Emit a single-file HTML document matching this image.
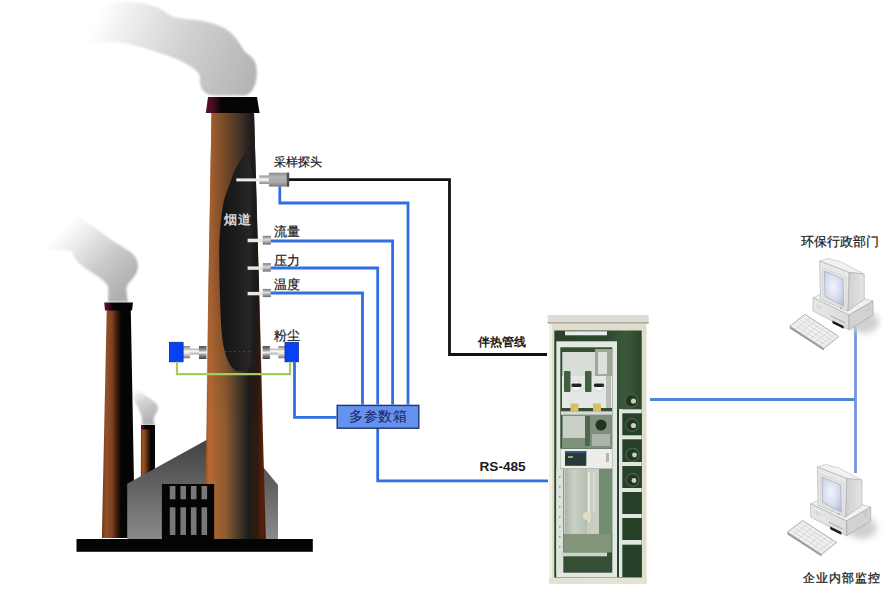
<!DOCTYPE html>
<html><head><meta charset="utf-8">
<style>
html,body{margin:0;padding:0;background:#fff;}
body{width:883px;height:600px;overflow:hidden;position:relative;font-family:"Liberation Sans",sans-serif;}
svg{position:absolute;left:0;top:0;}
.t{position:absolute;white-space:nowrap;color:#1a1a1a;line-height:1;}
.s{-webkit-text-stroke:0.22px #1a1a1a;}
</style></head><body>
<svg width="883" height="600" viewBox="0 0 883 600">
<defs>
  <linearGradient id="chim" x1="0" x2="1" y1="0" y2="0">
    <stop offset="0" stop-color="#8c4a1e"/>
    <stop offset="0.07" stop-color="#b86a30"/>
    <stop offset="0.35" stop-color="#8a5a30"/>
    <stop offset="0.55" stop-color="#4a3a28"/>
    <stop offset="0.72" stop-color="#1c1c1c"/>
    <stop offset="0.86" stop-color="#301a0e"/>
    <stop offset="0.95" stop-color="#5a2008"/>
    <stop offset="1" stop-color="#3a1808"/>
  </linearGradient>
  <linearGradient id="chim2" x1="0" x2="1" y1="0" y2="0">
    <stop offset="0" stop-color="#6a3412"/>
    <stop offset="0.12" stop-color="#94522a"/>
    <stop offset="0.3" stop-color="#7e4220"/>
    <stop offset="0.45" stop-color="#401c0a"/>
    <stop offset="0.58" stop-color="#060404"/>
    <stop offset="1" stop-color="#050505"/>
  </linearGradient>
  <linearGradient id="chim3" x1="0" x2="1" y1="0" y2="0">
    <stop offset="0" stop-color="#7a3c14"/>
    <stop offset="0.2" stop-color="#9a5626"/>
    <stop offset="0.55" stop-color="#3a1a08"/>
    <stop offset="0.7" stop-color="#050505"/>
    <stop offset="1" stop-color="#050505"/>
  </linearGradient>
  <linearGradient id="cap" x1="0" x2="1" y1="0" y2="0">
    <stop offset="0" stop-color="#5e0e2c"/>
    <stop offset="0.12" stop-color="#4a0c24"/>
    <stop offset="0.3" stop-color="#050304"/>
    <stop offset="1" stop-color="#050505"/>
  </linearGradient>
  <linearGradient id="smoke" gradientUnits="userSpaceOnUse" x1="250" y1="88" x2="95" y2="20">
    <stop offset="0" stop-color="#b4b4b4"/>
    <stop offset="0.45" stop-color="#d0d0d0"/>
    <stop offset="0.8" stop-color="#ededed"/>
    <stop offset="1" stop-color="#ffffff"/>
  </linearGradient>
  <linearGradient id="smoke2" gradientUnits="userSpaceOnUse" x1="128" y1="292" x2="62" y2="228">
    <stop offset="0" stop-color="#adadad"/>
    <stop offset="0.45" stop-color="#cdcdcd"/>
    <stop offset="0.8" stop-color="#efefef"/>
    <stop offset="1" stop-color="#ffffff"/>
  </linearGradient>
  <linearGradient id="smoke3" gradientUnits="userSpaceOnUse" x1="152" y1="420" x2="134" y2="390">
    <stop offset="0" stop-color="#b0b0b0"/>
    <stop offset="0.6" stop-color="#d4d4d4"/>
    <stop offset="1" stop-color="#ffffff"/>
  </linearGradient>
  <linearGradient id="bld" gradientUnits="userSpaceOnUse" x1="0" x2="0" y1="430" y2="539">
    <stop offset="0" stop-color="#3c3c3c"/>
    <stop offset="0.35" stop-color="#555555"/>
    <stop offset="1" stop-color="#8a8a8a"/>
  </linearGradient>
  <filter id="soft" x="-10%" y="-10%" width="120%" height="120%"><feGaussianBlur stdDeviation="0.8"/></filter>
  <filter id="blur3" x="-50%" y="-50%" width="200%" height="200%"><feGaussianBlur stdDeviation="3"/></filter>
  <linearGradient id="pcfront" x1="0" x2="1" y1="0" y2="0">
    <stop offset="0" stop-color="#e8e8e8"/>
    <stop offset="1" stop-color="#dcdcdc"/>
  </linearGradient>
  <linearGradient id="pcside" x1="0" x2="1" y1="0" y2="0">
    <stop offset="0" stop-color="#cfcfcf"/>
    <stop offset="1" stop-color="#e4e4e4"/>
  </linearGradient>
  <radialGradient id="screen" cx="0.45" cy="0.45" r="0.7">
    <stop offset="0" stop-color="#f2f4fc"/>
    <stop offset="0.6" stop-color="#d4daf0"/>
    <stop offset="1" stop-color="#b4bcd8"/>
  </radialGradient>
  <linearGradient id="green" x1="0" x2="1" y1="0" y2="0">
    <stop offset="0" stop-color="#223c22"/>
    <stop offset="0.6" stop-color="#26442a"/>
    <stop offset="0.82" stop-color="#345434"/>
    <stop offset="1" stop-color="#243e26"/>
  </linearGradient>
  <linearGradient id="panel" x1="0" x2="1" y1="0" y2="0">
    <stop offset="0" stop-color="#a8b4a4"/>
    <stop offset="0.4" stop-color="#c8d0c4"/>
    <stop offset="1" stop-color="#b4bcb0"/>
  </linearGradient>
  <filter id="soft6" x="-5%" y="-5%" width="110%" height="110%"><feGaussianBlur stdDeviation="0.6"/></filter>
  <linearGradient id="cyl" x1="0" x2="0" y1="0" y2="1">
    <stop offset="0" stop-color="#8a8a7a"/>
    <stop offset="0.45" stop-color="#f4f4f4"/>
    <stop offset="0.6" stop-color="#e8e8e8"/>
    <stop offset="1" stop-color="#7a7a70"/>
  </linearGradient>
  <linearGradient id="cyl2" x1="0" x2="0" y1="0" y2="1">
    <stop offset="0" stop-color="#a0a0a0"/>
    <stop offset="0.4" stop-color="#ffffff"/>
    <stop offset="1" stop-color="#a8a8a8"/>
  </linearGradient>
  <linearGradient id="nut" x1="0" x2="0" y1="0" y2="1">
    <stop offset="0" stop-color="#505050"/>
    <stop offset="0.3" stop-color="#909090"/>
    <stop offset="0.5" stop-color="#f0f0f0"/>
    <stop offset="0.7" stop-color="#909090"/>
    <stop offset="1" stop-color="#404040"/>
  </linearGradient>
  <linearGradient id="probe" x1="0" x2="0" y1="0" y2="1">
    <stop offset="0" stop-color="#8c8c8c"/>
    <stop offset="0.3" stop-color="#b4b4b4"/>
    <stop offset="0.7" stop-color="#a8a8a8"/>
    <stop offset="1" stop-color="#7a7a7a"/>
  </linearGradient>
  <linearGradient id="sens" x1="0" x2="0" y1="0" y2="1">
    <stop offset="0" stop-color="#787878"/>
    <stop offset="0.45" stop-color="#dcdcdc"/>
    <stop offset="1" stop-color="#6a6a6a"/>
  </linearGradient>
  <linearGradient id="chimTop" x1="0" x2="1" y1="0" y2="0">
    <stop offset="0" stop-color="#8a4c20"/>
    <stop offset="0.07" stop-color="#a66030"/>
    <stop offset="0.3" stop-color="#7a4a28"/>
    <stop offset="0.55" stop-color="#4e3628"/>
    <stop offset="0.8" stop-color="#1c1c1c"/>
    <stop offset="0.93" stop-color="#1e1616"/>
    <stop offset="1" stop-color="#2a1410"/>
  </linearGradient>
  <linearGradient id="topfade" gradientUnits="userSpaceOnUse" x1="0" x2="0" y1="100" y2="420">
    <stop offset="0" stop-color="#fff"/>
    <stop offset="0.55" stop-color="#fff"/>
    <stop offset="1" stop-color="#000"/>
  </linearGradient>
  <mask id="topmask" maskUnits="userSpaceOnUse" x="200" y="100" width="70" height="320"><rect x="200" y="100" width="70" height="320" fill="url(#topfade)"/></mask>
  <linearGradient id="flue" x1="0" x2="1" y1="0" y2="0">
    <stop offset="0" stop-color="#141414"/>
    <stop offset="0.5" stop-color="#1c1c1c"/>
    <stop offset="0.85" stop-color="#262626"/>
    <stop offset="1" stop-color="#1a1a1a"/>
  </linearGradient>
</defs>

<!-- main smoke -->
<path d="M256.7,72 C257,62 252,56 245,52 C238,40 232,32 224,28 C212,22 200,20 185,19 C175,18 170,16 164,11 C155,5 140,2 125,2 C112,2 100,4 92,8 L88,42 C100,43 112,42 124,43 C140,46 150,50 160,53 C172,57 180,60 190,66 C196,70 200,73 200,78 C199,88 204,95.5 215,95.5 L245,95.5 C253,93 257,84 256.7,72 Z" fill="url(#smoke)" filter="url(#soft)"/>

<!-- left smoke -->
<path d="M128,302 C127,294 125,289 128,284 C132,279 138,274 138,266 C138,259 134,254 126,249 C118,244 108,238 98,230 C90,224 82,218 74,216 L52,218 C46,228 44,240 48,250 C56,250 66,250 72,252 C74,258 78,264 88,270 C96,275 104,280 108,286 C109,292 108,297 108,302 Z" fill="url(#smoke2)" filter="url(#soft)"/>

<!-- small smoke -->
<path d="M155,425 C153,421 153,418 155,415 C157,412 158,410 158,407 C157,403 152,400 146,396 C142,393 138,390 134,389 C132,392 132,396 133,398 C135,402 138,406 139,410 C141,414 143,418 142,425 Z" fill="url(#smoke3)" filter="url(#soft)"/>

<!-- left tall chimney -->
<polygon points="106.7,310 130.8,310 135,538 101.9,538" fill="url(#chim2)"/>
<polygon points="104.2,302.5 133,302.5 132,310.5 105,310.5" fill="url(#cap)"/>

<!-- small chimney -->
<polygon points="141,429 155,429 155,480 140.8,480" fill="url(#chim3)"/>
<polygon points="141,425 155,425 155,429.5 141,429.5" fill="url(#cap)"/>

<!-- factory building -->
<polygon points="127.2,483.8 230,427 278,485 278,539 127.2,539" fill="url(#bld)"/>

<!-- main chimney -->
<polygon points="211.5,112 254,112 265.8,539 204.7,539" fill="url(#chim)"/>
<polygon points="211.5,112 254,112 263,420 206,420" fill="url(#chimTop)" mask="url(#topmask)"/>
<polygon points="208,97 257,97 259.6,113 205.8,113" fill="url(#cap)"/>
<!-- flue cutaway -->
<path d="M247.5,150 C240,160 234,171 231.5,179 C227,191 224,199 223,205 C220,225 219.2,240 219.2,255 C219.5,290 220.5,315 221.5,330 C222.5,345 225,353 228,361 C231,368 235,371 239,371 C246,371 250,368 252.5,362 L254.5,300 L253,175 Z" fill="url(#flue)"/>

<rect x="161.9" y="484" width="52.3" height="55" fill="#050505"/>
<g fill="#787878">
  <rect x="169.8" y="486" width="5.6" height="13.3"/>
  <rect x="180.4" y="486" width="5.6" height="13.3"/>
  <rect x="190.9" y="486" width="5.6" height="13.3"/>
  <rect x="201.5" y="486" width="5.6" height="13.3"/>
  <rect x="169.8" y="507.3" width="5.6" height="27.7"/>
  <rect x="180.4" y="507.3" width="5.6" height="27.7"/>
  <rect x="190.9" y="507.3" width="5.6" height="27.7"/>
  <rect x="201.5" y="507.3" width="5.6" height="27.7"/>
</g>

<!-- ground -->
<rect x="76.5" y="539" width="236.3" height="12.8" fill="#050505"/>

<!-- dust sensor -->
<g>
  <line x1="225" y1="351.7" x2="253" y2="351.7" stroke="#a04028" stroke-width="0.9" stroke-dasharray="1.6,3"/>
  <!-- left connector -->
  <rect x="183" y="346" width="7" height="12.3" fill="url(#cyl)"/>
  <rect x="190" y="348.7" width="9" height="5.8" fill="url(#cyl2)"/>
  <rect x="199" y="346" width="7.5" height="13" fill="url(#nut)"/>
  <!-- right connector -->
  <rect x="262.6" y="346" width="7.3" height="13" fill="url(#nut)"/>
  <rect x="269.9" y="348.7" width="8.5" height="5.8" fill="url(#cyl2)"/>
  <rect x="278.3" y="346" width="7" height="12.3" fill="url(#cyl)"/>
  <rect x="169.4" y="342.3" width="13.7" height="19.5" fill="#0840f4" stroke="#0a2aa8" stroke-width="0.8"/>
  <rect x="285" y="342.3" width="13.5" height="19.5" fill="#0840f4" stroke="#0a2aa8" stroke-width="0.8"/>
  <polyline points="177,361.8 177,374.2 290,374.2 290,361.8" fill="none" stroke="#a2cc5e" stroke-width="2.2"/>
</g>

<!-- probe -->
<rect x="236.3" y="178.4" width="23" height="3" fill="#ecebe6"/>
<rect x="259.3" y="175.5" width="10" height="8.3" fill="url(#cyl)"/>
<rect x="268.9" y="172.7" width="20.2" height="13.9" fill="url(#probe)"/>
<rect x="286.8" y="172.7" width="2.4" height="13.9" fill="#505050"/>

<!-- sensors -->
<g>
  <rect x="247.6" y="238.7" width="15.5" height="3.5" fill="#ebe8e0"/>
  <rect x="262.7" y="235.8" width="8.2" height="8.8" fill="url(#sens)"/>
  <rect x="247.6" y="266.4" width="15.5" height="3.4" fill="#ebe8e0"/>
  <rect x="262.7" y="263.2" width="8.2" height="8.4" fill="url(#sens)"/>
  <rect x="247.6" y="291.9" width="15.5" height="3.4" fill="#ebe8e0"/>
  <rect x="262.7" y="288.9" width="8.2" height="8.2" fill="url(#sens)"/>
</g>

<!-- cables -->
<g fill="none" stroke-linejoin="miter">
  <polyline points="289,179.7 449.5,179.7 449.5,354.5 547,354.5" stroke="#111" stroke-width="2.8"/>
  <polyline points="279.8,186.6 279.8,203 408,203 408,404.4" stroke="#2f6fe0" stroke-width="2.8"/>
  <polyline points="270.7,241 392.6,241 392.6,404.4" stroke="#2f6fe0" stroke-width="2.8"/>
  <polyline points="270.7,268 377.7,268 377.7,404.4" stroke="#2f6fe0" stroke-width="2.8"/>
  <polyline points="270.7,293 362.5,293 362.5,404.4" stroke="#2f6fe0" stroke-width="2.8"/>
  <polyline points="294.5,361.5 294.5,417.4 336.4,417.4" stroke="#2f6fe0" stroke-width="2.8"/>
  <polyline points="377.7,428.5 377.7,480.8 548,480.8" stroke="#2f6fe0" stroke-width="2.8"/>
  <polyline points="650,399.5 855.5,399.5" stroke="#5682da" stroke-width="2.8"/>
  <polyline points="855.5,326 855.5,473" stroke="#7494de" stroke-width="2.8"/>
</g>

<!-- multi-parameter box -->
<rect x="337.2" y="405.4" width="81.6" height="22.8" fill="#6492ee" stroke="#1e3276" stroke-width="1.4"/>

<!-- cabinet -->
<g filter="url(#soft6)">
  <!-- outer body -->
  <rect x="549" y="323" width="97.5" height="261" fill="#dedccb"/>
  <rect x="549" y="323" width="3" height="261" fill="#f0efe6"/>
  <rect x="547.7" y="315" width="101" height="8.5" fill="#dcdcd4"/>
  <rect x="547.7" y="322" width="101" height="1.6" fill="#a9a99e"/>
  <rect x="549" y="578" width="97.5" height="6" fill="#e4e2d2"/>
  <!-- dark green interior -->
  <rect x="554.3" y="330.5" width="87.4" height="247" fill="url(#green)"/>
  <rect x="565" y="331.3" width="42" height="4" fill="#e8ecea"/>
  <!-- rack frame -->
  <rect x="556.3" y="341.3" width="60.7" height="236" fill="#e3e8e3"/>
  <rect x="560.3" y="347.3" width="52" height="225.4" fill="#2e4a30"/>
  <!-- upper rack content -->
  <rect x="562.3" y="352" width="33" height="24" fill="#d8dcd6"/>
  <rect x="595" y="349" width="17" height="28" fill="#9aa696"/>
  <rect x="598" y="352" width="9" height="22" fill="#dcdeda"/>
  <rect x="562" y="376" width="50" height="32" fill="#e4e8e4"/>
  <rect x="564" y="371" width="6.5" height="21" fill="#3c5a3c" rx="1"/>
  <rect x="585" y="371" width="6.5" height="21" fill="#3c5a3c" rx="1"/>
  <circle cx="576.5" cy="386" r="5" fill="#f4f4f4" stroke="#c0c0c0" stroke-width="0.6"/>
  <circle cx="599" cy="386" r="5" fill="#f4f4f4" stroke="#c0c0c0" stroke-width="0.6"/>
  <rect x="571.5" y="383.5" width="10" height="3.5" fill="#1c1c1c" rx="1.5"/>
  <rect x="594" y="383.5" width="10" height="3.5" fill="#1c1c1c" rx="1.5"/>
  <rect x="606" y="376" width="5" height="32" fill="#b8bcb4"/>
  <rect x="570.5" y="403.5" width="8" height="8" fill="#d8bc60"/>
  <rect x="593" y="403.5" width="8" height="8" fill="#d8bc60"/>
  <rect x="561" y="411.3" width="51" height="3.5" fill="#d4dad4"/>
  <rect x="562" y="415" width="50" height="33" fill="#7a8c78"/>
  <rect x="563" y="416" width="22" height="22" fill="#c8ceC6"/>
  <rect x="585" y="416" width="5" height="30" fill="#4a6248"/>
  <circle cx="601" cy="425" r="5.5" fill="#1e2a20"/>
  <rect x="592" y="434" width="18" height="12" fill="#a8b4a6"/>
  <!-- analyzer -->
  <rect x="560.3" y="448.7" width="52" height="20" fill="#ededea"/>
  <rect x="565" y="451.2" width="21.3" height="14.6" fill="#1e3430"/>
  <rect x="565" y="451.2" width="21.3" height="2" fill="#34508a"/>
  <rect x="568" y="456" width="5" height="2" fill="#8aa880"/>
  <rect x="606" y="453" width="3" height="9" fill="#b4b4b0"/>
  <!-- lower rack content -->
  <rect x="563.7" y="469" width="48" height="65" fill="#c6cec0"/>
  <rect x="565" y="469" width="22" height="65" fill="url(#panel)"/>
  <rect x="599" y="469" width="13" height="65" fill="#6e8a6c"/>
  <rect x="588" y="472" width="2" height="50" fill="#e4e8dc"/>
  <rect x="593" y="472" width="2" height="40" fill="#d8dcd0"/>
  <rect x="583" y="512" width="8" height="8" rx="4" fill="#e0dcc4"/>
  <rect x="556.3" y="469" width="7" height="104" fill="#dde2dc"/>
  <g fill="#8c948c">
    <rect x="559" y="476" width="1.5" height="1.5"/><rect x="559" y="486" width="1.5" height="1.5"/><rect x="559" y="496" width="1.5" height="1.5"/>
    <rect x="559" y="506" width="1.5" height="1.5"/><rect x="559" y="516" width="1.5" height="1.5"/><rect x="559" y="526" width="1.5" height="1.5"/>
    <rect x="559" y="536" width="1.5" height="1.5"/><rect x="559" y="546" width="1.5" height="1.5"/>
  </g>
  <rect x="563.7" y="534" width="48" height="18.5" fill="#7e9276"/>
  <rect x="561" y="552.5" width="46" height="3.8" fill="#ccd4ca"/>
  <!-- right column -->
  <rect x="617.7" y="409" width="24" height="168" fill="#1f3a24"/>
  <g fill="#e0e6e0">
    <rect x="619" y="409" width="3.3" height="168"/>
    <rect x="619" y="409.3" width="22.7" height="4"/>
    <rect x="619" y="435.3" width="22.7" height="4"/>
    <rect x="619" y="462" width="22.7" height="4"/>
    <rect x="619" y="488" width="22.7" height="4"/>
    <rect x="619" y="514" width="22.7" height="4"/>
    <rect x="619" y="540" width="22.7" height="4.7"/>
  </g>
  <g fill="#1c301e" stroke="#3e5a3e" stroke-width="1.4">
    <circle cx="631.5" cy="400.7" r="6.5"/>
    <circle cx="632" cy="425" r="6.5"/>
    <circle cx="632.5" cy="454.7" r="6.5"/>
    <circle cx="632.5" cy="480" r="6.5"/>
  </g>
  <g fill="#d4ccb0">
    <circle cx="633.5" cy="401" r="2.6"/>
    <circle cx="633.5" cy="425.5" r="2.6"/>
    <circle cx="634.5" cy="455" r="2.4"/>
    <circle cx="634" cy="480.5" r="2.4"/>
  </g>
  <rect x="549" y="315" width="99" height="269" fill="#ffffff" opacity="0.03"/>
</g>

<!-- computers -->
<g id="pc1">
  <ellipse cx="864" cy="322" rx="15" ry="11" fill="#d0d0d0" filter="url(#blur3)"/>
  <!-- base -->
  <polygon points="813,297.7 830.9,289.8 873,301 849,315" fill="#f1f1f1" stroke="#b4b4b4" stroke-width="0.6"/>
  <polygon points="813,297.7 849,315 849,329.8 813,311" fill="url(#pcfront)" stroke="#a8a8a8" stroke-width="0.6"/>
  <polygon points="849,315 873,301 873,315 849,329.8" fill="#d2d2d2" stroke="#a0a0a0" stroke-width="0.6"/>
  <polygon points="832.5,320.5 843.6,326 843.6,328.8 832.5,323.3" fill="#1a1a1a"/>
  <polygon points="831,315.5 845,322.5 845,323.5 831,316.5" fill="#a8a8a8"/>
  <g stroke="#b8b8b8" stroke-width="0.5">
    <line x1="817" y1="304" x2="817" y2="308"/><line x1="819" y1="305" x2="819" y2="309"/><line x1="821" y1="306" x2="821" y2="310"/>
    <line x1="867" y1="306" x2="867" y2="312"/><line x1="869" y1="305" x2="869" y2="311"/>
  </g>
  <!-- monitor -->
  <polygon points="819.7,261 828.5,258.5 841.2,262 864.2,274 849,272.4" fill="#f2f2f2" stroke="#b8b8b8" stroke-width="0.6"/>
  <polygon points="849,272.4 864.2,274 864.2,299.5 847.7,311" fill="url(#pcside)" stroke="#a8a8a8" stroke-width="0.6"/>
  <polygon points="819.7,261 849,272.4 847.7,311 820.4,299" fill="#e8e8e8" stroke="#a8a8a8" stroke-width="0.6"/>
  <polygon points="822.5,268 846,277.5 845.5,308 823,297" fill="none" stroke="#c8c8c8" stroke-width="0.6"/>
  <polygon points="824.4,271 843,279 843.7,306 825,296.4" fill="url(#screen)" stroke="#a0a4b0" stroke-width="0.6"/>
  <circle cx="841" cy="308" r="0.8" fill="#6a9a6a"/>
  <!-- keyboard -->
  <polygon points="789.8,326.2 804.8,314.4 838.8,336.5 823.8,348.4" fill="#f0f0f0" stroke="#8a8a8a" stroke-width="0.7"/>
  <polygon points="789.8,326.2 823.8,348.4 823.8,350.6 789.8,328.4" fill="#9a9a9a"/>
  <g stroke="#cacaca" stroke-width="0.6">
    <line x1="793" y1="323.8" x2="827" y2="346"/>
    <line x1="796" y1="321.4" x2="830" y2="343.6"/>
    <line x1="799" y1="319" x2="833" y2="341.2"/>
    <line x1="802" y1="316.6" x2="836" y2="338.8"/>
    <line x1="795" y1="329.6" x2="810" y2="317.8"/>
    <line x1="800" y1="332.8" x2="815" y2="321"/>
    <line x1="805" y1="336" x2="820" y2="324.2"/>
    <line x1="810" y1="339.2" x2="825" y2="327.4"/>
    <line x1="815" y1="342.4" x2="830" y2="330.6"/>
    <line x1="820" y1="345.6" x2="835" y2="333.8"/>
  </g>
</g>
<use href="#pc1" transform="translate(-2.3,206)"/>
</svg>

<div class="t s" style="left:274px;top:156px;font-size:12.3px;letter-spacing:0.1px;">采样探头</div>
<div class="t s" style="left:224px;top:214.3px;font-size:12.5px;letter-spacing:0.8px;color:#e6e6e6;-webkit-text-stroke:0.35px #e6e6e6;">烟道</div>
<div class="t s" style="left:274px;top:224.5px;font-size:13px;">流量</div>
<div class="t s" style="left:274px;top:253.8px;font-size:13px;">压力</div>
<div class="t s" style="left:274px;top:277.6px;font-size:13px;">温度</div>
<div class="t s" style="left:274px;top:328.5px;font-size:13px;">粉尘</div>
<div class="t" style="left:349px;top:410px;font-size:13.8px;letter-spacing:0.6px;color:#18286a;-webkit-text-stroke:0.1px #18286a;">多参数箱</div>
<div class="t" style="left:477.5px;top:336px;font-size:12.3px;font-weight:bold;">伴热管线</div>
<div class="t" style="left:479.5px;top:460px;font-size:13.6px;font-weight:bold;">RS-485</div>
<div class="t s" style="left:800.5px;top:235.5px;font-size:12.6px;">环保行政部门</div>
<div class="t s" style="left:802.5px;top:572px;font-size:12.2px;letter-spacing:1.2px;-webkit-text-stroke-width:0.3px;">企业内部监控</div>
</body></html>
